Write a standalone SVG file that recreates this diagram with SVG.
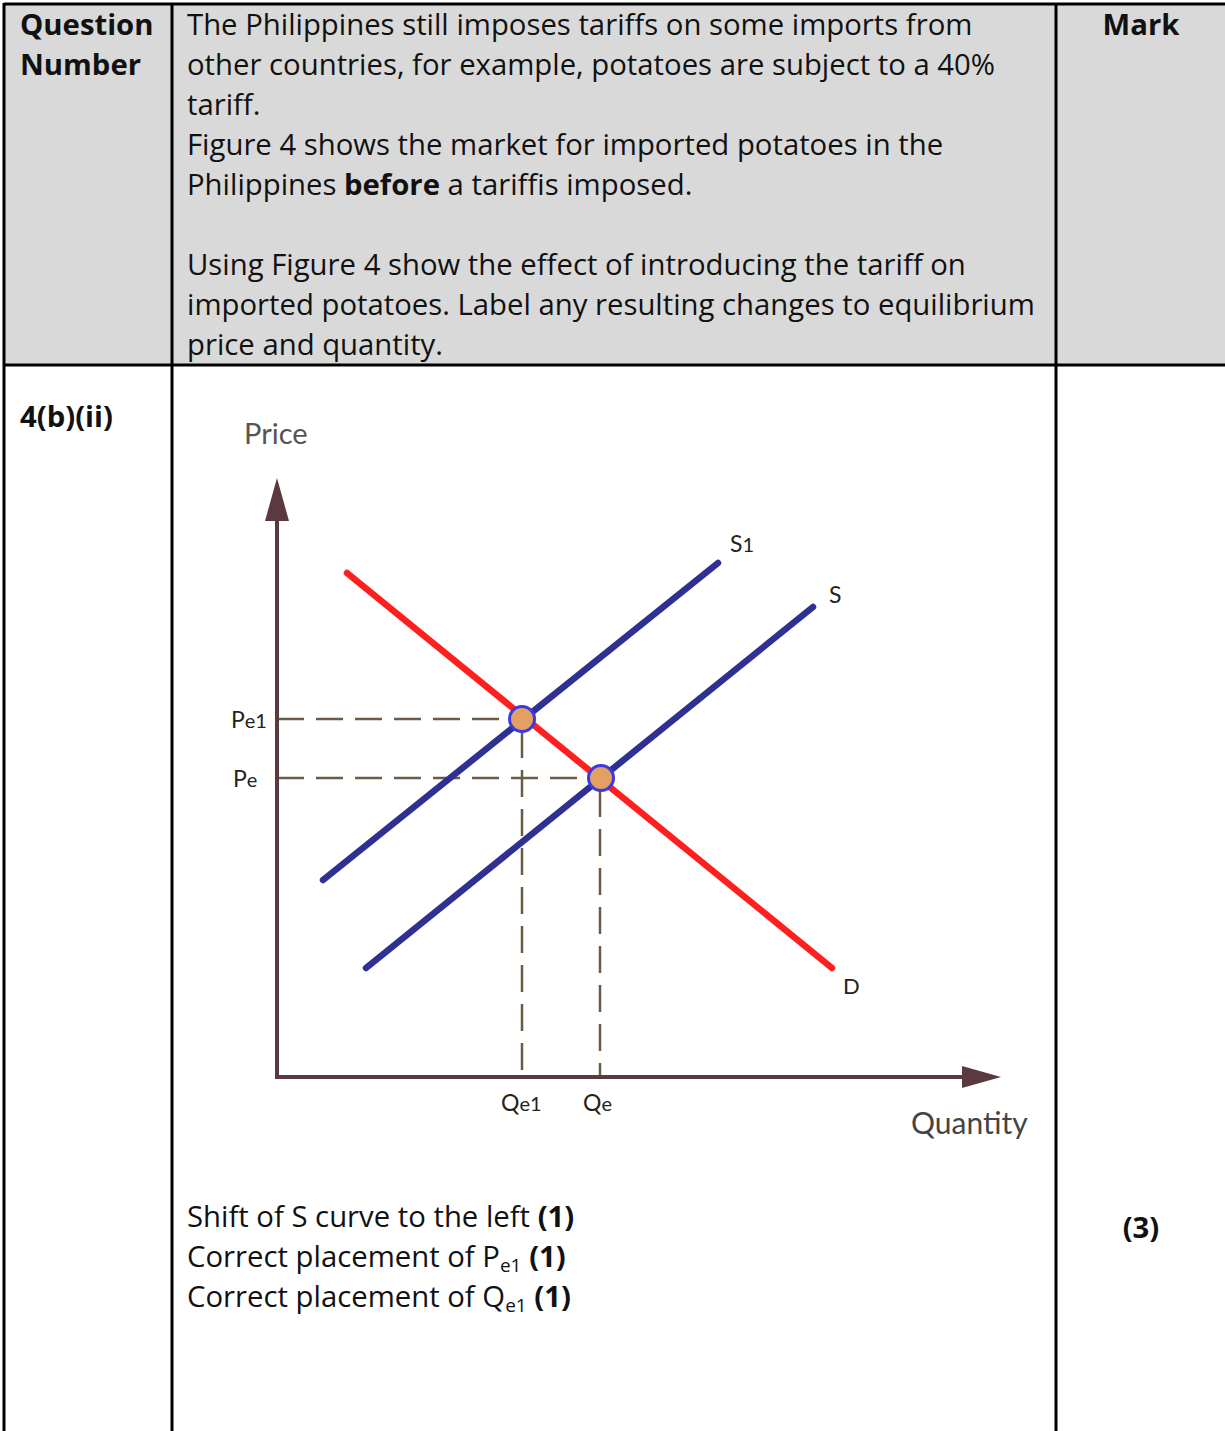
<svg xmlns="http://www.w3.org/2000/svg" width="1225" height="1431" viewBox="0 0 1225 1431">
<defs>
<style>
.t{font-family:"Open Sans","Noto Sans",sans-serif;font-size:29.3px;fill:#111}
.b{font-weight:bold}
.c{font-family:Lato,"Liberation Sans",sans-serif;fill:#222}
.ax{stroke:#5a3a3e;stroke-width:4;fill:none}
.dash{stroke:#6b5a45;stroke-width:2.5;stroke-dasharray:27 12;fill:none}
.sup{stroke:#2e3192;stroke-width:6.5;stroke-linecap:round;fill:none}
.dem{stroke:#ff1f1f;stroke-width:6.5;stroke-linecap:round;fill:none}
.pt{fill:#e3a063;stroke:#3a3ae0;stroke-width:3}
</style>
</defs>
<rect x="0" y="0" width="1225" height="1431" fill="#fff"/>
<g id="table">
<rect x="4" y="4" width="1221" height="361" fill="#d9d9d9"/>
<line x1="4" y1="4" x2="1225" y2="4" stroke="#000" stroke-width="3"/>
<line x1="4" y1="3" x2="4" y2="1431" stroke="#000" stroke-width="3"/>
<line x1="172" y1="3" x2="172" y2="1431" stroke="#000" stroke-width="3"/>
<line x1="1056" y1="3" x2="1056" y2="1431" stroke="#000" stroke-width="3"/>
<line x1="4" y1="365" x2="1225" y2="365" stroke="#000" stroke-width="3"/>
</g>
<g id="header">
<text class="t b" x="20" y="35">Question</text>
<text class="t b" x="20" y="75">Number</text>
<text class="t" x="187" y="35">The Philippines still imposes tariffs on some imports from</text>
<text class="t" x="187" y="75">other countries, for example, potatoes are subject to a 40%</text>
<text class="t" x="187" y="115">tariff.</text>
<text class="t" x="187" y="155">Figure 4 shows the market for imported potatoes in the</text>
<text class="t" x="187" y="195">Philippines <tspan class="b">before</tspan> a tariffis imposed.</text>
<text class="t" x="187" y="275">Using Figure 4 show the effect of introducing the tariff on</text>
<text class="t" x="187" y="315">imported potatoes. Label any resulting changes to equilibrium</text>
<text class="t" x="187" y="355">price and quantity.</text>
<text class="t b" x="1141" y="35" text-anchor="middle">Mark</text>
</g>
<g id="body">
<text class="t b" x="20" y="427">4(b)(ii)</text>
<text class="t b" x="1141" y="1238" text-anchor="middle">(3)</text>
<text class="t" x="187" y="1227">Shift of S curve to the left <tspan class="b">(1)</tspan></text>
<text class="t" x="187" y="1267">Correct placement of P<tspan font-size="19" dy="5">e1</tspan><tspan dy="-5"> </tspan><tspan class="b">(1)</tspan></text>
<text class="t" x="187" y="1307">Correct placement of Q<tspan font-size="19" dy="5">e1</tspan><tspan dy="-5"> </tspan><tspan class="b">(1)</tspan></text>
</g>
<g id="connectors">
<line class="dash" x1="277" y1="719" x2="522" y2="719"/>
<line class="dash" x1="277" y1="778" x2="601" y2="778"/>
<line class="dash" x1="522" y1="731" x2="522" y2="1075"/>
<line class="dash" x1="600" y1="790" x2="600" y2="1075"/>
<line class="ax" x1="277" y1="515" x2="277" y2="1078"/>
<polygon points="265,521 289,521 277,478" fill="#5a3a3e"/>
<line class="ax" x1="275" y1="1077" x2="966" y2="1077"/>
<polygon points="962,1066 962,1088 1001,1077" fill="#5a3a3e"/>
<line class="dem" x1="347" y1="573" x2="832" y2="968"/>
<line class="sup" x1="323" y1="880" x2="718" y2="563"/>
<line class="sup" x1="366" y1="968" x2="813" y2="607"/>
</g>
<g id="points">
<circle class="pt" cx="522" cy="719" r="12.5"/>
<circle class="pt" cx="601" cy="778" r="12.5"/>
</g>
<g id="labels">
<text class="c" x="244" y="444" font-size="29" style="fill:#555">Price</text>
<text class="c" x="911" y="1134" font-size="30" style="fill:#444">Quantity</text>
<text class="c" x="231" y="728" font-size="23">P<tspan font-size="20">e1</tspan></text>
<text class="c" x="233" y="787" font-size="23">P<tspan font-size="20">e</tspan></text>
<text class="c" x="501" y="1111" font-size="23">Q<tspan font-size="20">e1</tspan></text>
<text class="c" x="583" y="1111" font-size="23">Q<tspan font-size="20">e</tspan></text>
<text class="c" x="730" y="552" font-size="23">S<tspan font-size="20">1</tspan></text>
<text class="c" x="829" y="603" font-size="23">S</text>
<text class="c" x="843" y="994" font-size="22">D</text>
</g>
</svg>
